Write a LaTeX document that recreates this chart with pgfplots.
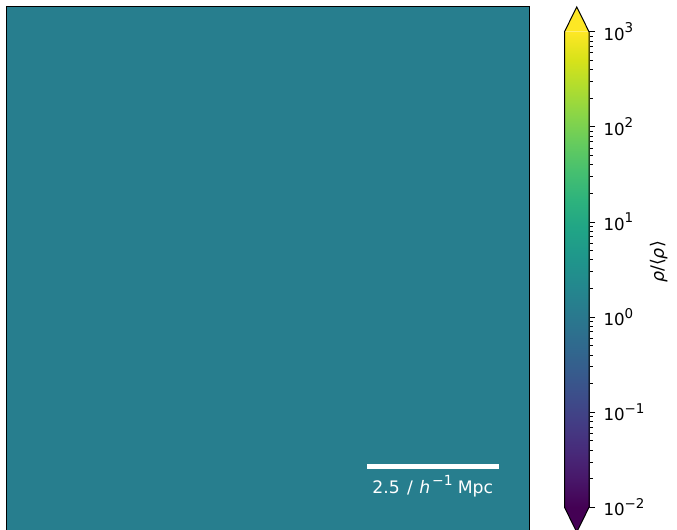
\documentclass[border=0pt]{standalone}
\usepackage{pgfplots}
\pgfplotsset{compat=1.18}
\usepackage{fontspec}
\setmainfont{DejaVu Sans}

\definecolor{vlow}{HTML}{440154}
\definecolor{vhigh}{HTML}{FDE725}
\newcommand{\supnum}[1]{\raisebox{0.45em}{\fontsize{13.5}{14}\selectfont #1}}
\newcommand{\lblfont}{\fontsize{16.7}{20}\selectfont}

\begin{document}
\begin{tikzpicture}[x=1bp,y=1bp]
% projected density field, log10(rho/<rho>), box of 10 Mpc/h
\begin{axis}[
  at={(6bp,-1.5bp)}, anchor=south west,
  scale only axis, width=523bp, height=525bp,
  xmin=0, xmax=10, ymin=0, ymax=10,
  ticks=none,
  axis line style={line width=1bp},
  axis on top,
  colormap name=viridis, point meta min=-2, point meta max=3,
]
\addplot[surf, shader=flat corner, point meta=explicit, mesh/cols=2] table[meta=c] {
x y c
0 0 0.12
10 0 0.12

0 10 0.12
10 10 0.12
};
% scale bar: 2.5 Mpc/h
\addplot[white, line width=5bp] coordinates {(6.9,1.234) (9.42,1.234)};
\node[white, anchor=base, font=\fontsize{17.3}{20}\selectfont] at (axis cs:8.16,0.733)
  {2.5\hspace{0.42em}/\hspace{0.38em}{\itshape h}\hspace{0.1em}\raisebox{0.45em}{\fontsize{14}{14}\selectfont −1}\hspace{0.3em}Mpc};
\end{axis}

% colour bar with extensions
\begin{axis}[
  at={(564.5bp,22.7bp)}, anchor=south west,
  scale only axis, width=24.5bp, height=475.6bp,
  xmin=0, xmax=1, ymode=log, ymin=1e-2, ymax=1e3,
  xtick=\empty,
  ytick={0.01,0.1,1,10,100,1000},
  yticklabels={10\supnum{−2},10\supnum{−1},10\supnum{0},10\supnum{1},10\supnum{2},10\supnum{3}},
  minor ytick={0.02,0.03,0.04,0.05,0.06,0.07,0.08,0.09,
               0.2,0.3,0.4,0.5,0.6,0.7,0.8,0.9,
               2,3,4,5,6,7,8,9,
               20,30,40,50,60,70,80,90,
               200,300,400,500,600,700,800,900},
  ytick pos=right, yticklabel pos=right,
  tick align=outside,
  major tick length=6bp, minor tick length=3.5bp,
  tick style={black, line width=0.8bp},
  yticklabel style={font=\lblfont, anchor=west, xshift=5bp},
  axis line style={draw=none},
  clip=false,
  colormap name=viridis, point meta min=-2, point meta max=3,
]
\addplot[surf, shader=interp, point meta=explicit, mesh/cols=2] table[meta=c] {
x y c
0 0.01 -2
1 0.01 -2

0 0.0316228 -1.5
1 0.0316228 -1.5

0 0.1 -1
1 0.1 -1

0 0.316228 -0.5
1 0.316228 -0.5

0 1 0
1 1 0

0 3.16228 0.5
1 3.16228 0.5

0 10 1
1 10 1

0 31.6228 1.5
1 31.6228 1.5

0 100 2
1 100 2

0 316.228 2.5
1 316.228 2.5

0 1000 3
1 1000 3
};
\addplot[fill=vhigh, draw=none] coordinates {(0,1000) (0.5,1819.7) (1,1000)};
\addplot[fill=vlow, draw=none] coordinates {(0,0.01) (0.5,0.0054954) (1,0.01)};
\addplot[black, line width=1bp] coordinates
  {(0,0.01) (0,1000) (0.5,1819.7) (1,1000) (1,0.01) (0.5,0.0054954)} -- cycle;
\end{axis}

\node[rotate=90, font=\fontsize{17.5}{20}\selectfont] at (659bp,268bp) {{\itshape ρ}/⟨{\itshape ρ}⟩};

\pgfresetboundingbox
\useasboundingbox (0,0) rectangle (677bp,530bp);
\end{tikzpicture}
\end{document}
